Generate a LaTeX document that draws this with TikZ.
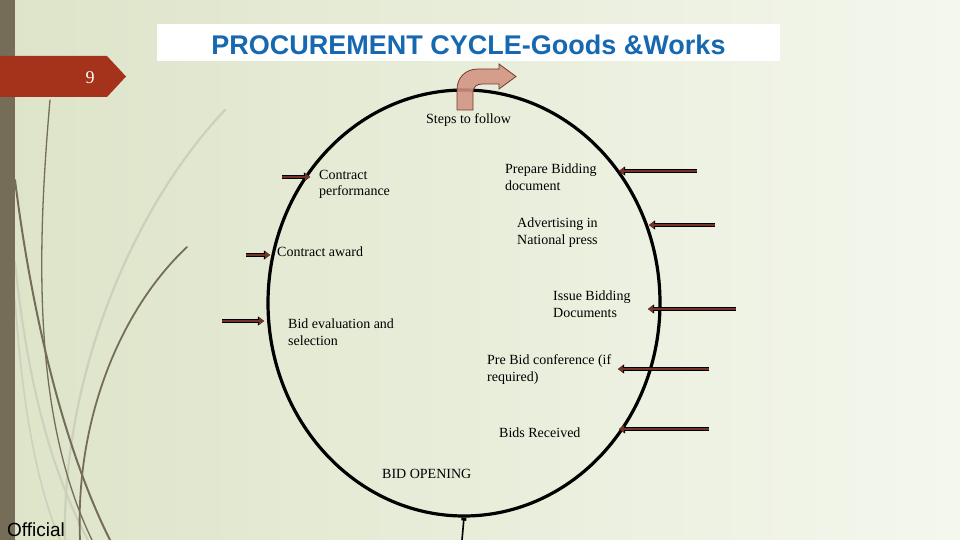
\documentclass[tikz,border=0pt]{standalone}
\usepackage{fontspec}
\setmainfont{Liberation Serif}
\newfontfamily\arialfont{Liberation Sans}
\usetikzlibrary{shapes.geometric,arrows.meta}
\definecolor{stripcol}{RGB}{117,109,88}
\definecolor{curvedark}{RGB}{117,109,88}
\definecolor{curvelight}{RGB}{204,209,187}
\definecolor{bgL}{RGB}{221,228,200}
\definecolor{bgR}{RGB}{244,247,237}
\definecolor{bannerred}{RGB}{165,50,26}
\definecolor{titleblue}{RGB}{22,104,176}
\definecolor{feedbrown}{RGB}{115,52,40}
\definecolor{bentfill}{RGB}{211,146,130}
\definecolor{bentline}{RGB}{110,60,45}
\begin{document}
\begin{tikzpicture}[x=1pt,y=-1pt,
  lbl/.style={inner sep=0pt, anchor=base west, align=left, font=\fontsize{14}{16.5}\selectfont},
  feeder/.style={draw=feedbrown, line width=2.8pt,
    -{Triangle[length=5pt,width=7.5pt,line width=0pt]},
    preaction={draw=black, line width=4.4pt, -{Triangle[length=6.2pt,width=9.4pt,line width=0pt]}}},
  decodark/.style={draw=curvedark, line cap=round},
  decolight/.style={draw=curvelight, line cap=round}]
\useasboundingbox (0,0) rectangle (960,540);
% background
\shade[left color=bgL, right color=bgR] (0,0) rectangle (960,540);
% decorative curves
\draw[decolight, line width=2.2pt] (225,110) .. controls (130,210) and (62,380) .. (65,540);
\draw[decolight, line width=2pt] (15,262) .. controls (25,360) and (45,460) .. (88,540);
\draw[decolight, line width=1.6pt] (15,300) .. controls (22,400) and (35,480) .. (60,540);
\draw[decodark, line width=1.3pt] (50,100) .. controls (36,260) and (34,420) .. (92,540);
\draw[decodark, line width=2pt] (15,180) .. controls (30,300) and (60,440) .. (110,540);
\draw[decodark, line width=1.8pt] (187,247) .. controls (120,310) and (75,420) .. (80,540);
% left strip and banner
\fill[stripcol] (0,0) rectangle (15,540);
\fill[bannerred] (0,56) -- (107,56) -- (126,76.5) -- (107,97) -- (0,97) -- cycle;
\node[text=white, inner sep=0pt, font=\fontsize{18}{18}\selectfont] (num) at (90,77.5) {9};
% title
\fill[white] (157,24) rectangle (780,61);
\node[inner sep=0pt, text=titleblue, font=\arialfont\bfseries\fontsize{27}{27}\selectfont] (ttl) at (468.5,44.5)
      {PROCUREMENT CYCLE-Goods \&Works};
% cycle
\node[draw, ellipse, line width=3.2pt, minimum width=392pt, minimum height=426pt, inner sep=0pt] (cyc) at (464,303) {};
\coordinate (bot) at (462,540);
\draw[line width=1.6pt, {Square[length=3pt,width=5pt]}-] (cyc.south) -- (bot);
% bent arrow
\filldraw[fill=bentfill, draw=bentline, line width=0.8pt, fill opacity=0.88]
  (457,110) -- (457,90) .. controls (457,78) and (465,69) .. (478,69) -- (499,69) -- (499,64)
  -- (516,76.5) -- (499,89) -- (499,84) -- (482,84) .. controls (477,84) and (473,87) .. (473,92)
  -- (473,110) -- cycle;
% labels (anchor at baseline of last line)
\node[lbl] (steps) at (426,124) {Steps to follow};
\node[lbl] (prep) at (505,190) {Prepare Bidding\\document};
\node[lbl] (perf) at (319,196) {Contract\\performance};
\node[lbl] (adv) at (517,244) {Advertising in\\National press};
\node[lbl] (award) at (277,256) {Contract award};
\node[lbl] (issue) at (553,317) {Issue Bidding\\Documents};
\node[lbl] (eval) at (288,345) {Bid evaluation and\\selection};
\node[lbl] (prebid) at (487,381) {Pre Bid conference (if\\required)};
\node[lbl] (recv) at (499,437) {Bids Received};
\node[lbl] (open) at (382,478) {BID OPENING};
% feeder arrows
\coordinate (r1s) at (697,171); \coordinate (r1e) at (619,171);
\coordinate (r2s) at (715,225); \coordinate (r2e) at (649,225);
\coordinate (r3s) at (736,309); \coordinate (r3e) at (648,309);
\coordinate (r4s) at (709,369); \coordinate (r4e) at (618,369);
\coordinate (r5s) at (709,429); \coordinate (r5e) at (619,429);
\coordinate (l1s) at (282,177); \coordinate (l1e) at (310,177);
\coordinate (l2s) at (246,255); \coordinate (l2e) at (270,255);
\coordinate (l3s) at (222,321); \coordinate (l3e) at (264,321);
\draw[feeder] (r1s) -- (r1e);
\draw[feeder] (r2s) -- (r2e);
\draw[feeder] (r3s) -- (r3e);
\draw[feeder] (r4s) -- (r4e);
\draw[feeder] (r5s) -- (r5e);
\draw[feeder] (l1s) -- (l1e);
\draw[feeder] (l2s) -- (l2e);
\draw[feeder] (l3s) -- (l3e);
% footer
\node[inner sep=0pt, anchor=base west, font=\arialfont\fontsize{19}{19}\selectfont] (off) at (7,536) {Official};
\end{tikzpicture}
\end{document}
